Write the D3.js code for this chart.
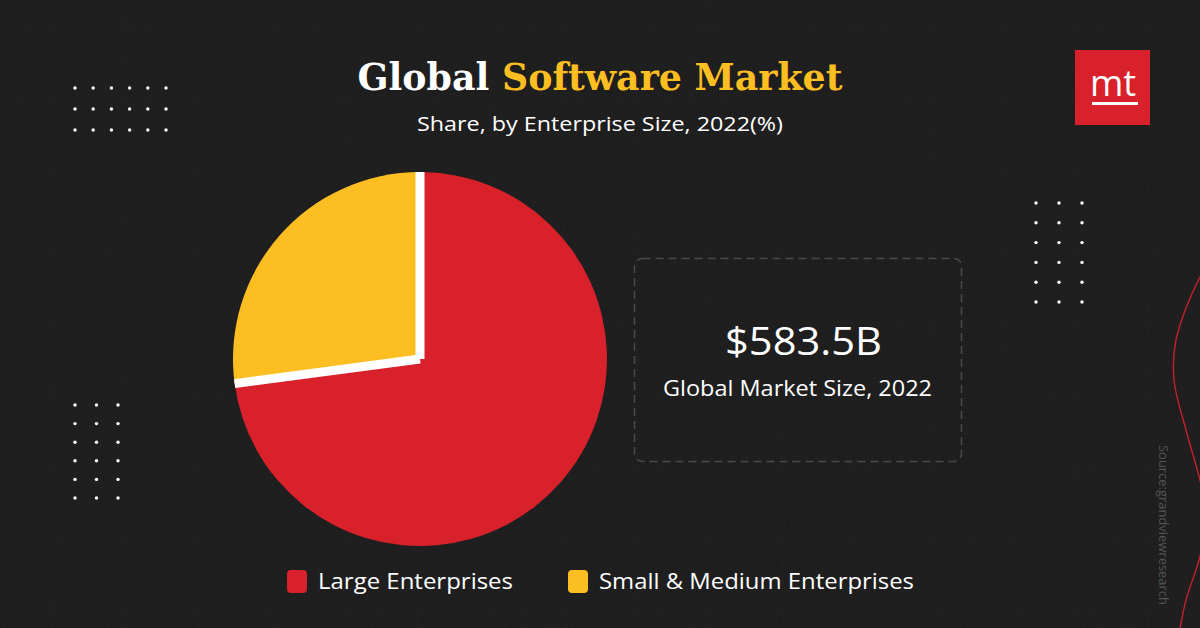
<!DOCTYPE html>
<html>
    <head>
        <meta charset="utf-8">
        <script src="https://d3js.org/d3.v7.min.js"></script>
        <style>
body {
    margin: 0;
    background-color: #1a1a1a;
}
        </style>
    </head>
    <body>
        <div id="chart"></div>
        <script>
// data
var categories = ["Large Enterprises", "Small & Medium Enterprises"];
var shares = [72.9, 27.1];
var sliceColors = ["#d8212a", "#fdbe21"];
var marketValue = "$583.5B";
var marketLabel = "Global Market Size, 2022";

var W = 1200, H = 628;
var sans = "'Open Sans', 'Noto Sans', sans-serif";

var svg = d3.select("#chart")
    .append("svg")
    .attr("width", W)
    .attr("height", H)
    .style("display", "block");

// background + a little grain
var defs = svg.append("defs");
var grain = defs.append("filter").attr("id", "grain");
grain.append("feTurbulence")
    .attr("type", "fractalNoise")
    .attr("baseFrequency", 0.9)
    .attr("numOctaves", 2)
    .attr("result", "n");
grain.append("feColorMatrix")
    .attr("type", "saturate")
    .attr("values", 0);

svg.append("rect").attr("width", W).attr("height", H).attr("fill", "#1a1a1a");
svg.append("rect").attr("width", W).attr("height", H)
    .attr("filter", "url(#grain)").attr("opacity", 0.06);

// faint background grid
var bg = svg.append("g").attr("stroke", "#fff").attr("stroke-opacity", 0.02);
for (var gx = 53; gx < W; gx += 73) {
    bg.append("line").attr("x1", gx).attr("x2", gx).attr("y1", 0).attr("y2", H);
}
for (var gy = 30; gy < H; gy += 73) {
    bg.append("line").attr("y1", gy).attr("y2", gy).attr("x1", 0).attr("x2", W);
}

// decorative dot grids
function dotGrid(x0, y0, cols, rows, dx, dy) {
    var g = svg.append("g").attr("fill", "#fff");
    for (var r = 0; r < rows; r++) {
        for (var c = 0; c < cols; c++) {
            g.append("circle")
                .attr("cx", x0 + c * dx)
                .attr("cy", y0 + r * dy)
                .attr("r", 1.7);
        }
    }
}
dotGrid(75, 88, 6, 3, 18.2, 21);
dotGrid(75, 405, 3, 6, 21.5, 18.6);
dotGrid(1036, 203, 3, 6, 23, 19.8);

// red swoosh on the right edge
var swoosh = [[1225, 240], [1200, 277], [1176, 340], [1174, 380], [1186, 430],
              [1200, 480], [1208, 515], [1199, 560], [1186, 600], [1178, 640]];
svg.append("path")
    .attr("d", d3.line().curve(d3.curveCatmullRom)(swoosh))
    .attr("fill", "none")
    .attr("stroke", "#c42129")
    .attr("stroke-width", 1.4);

// title
var title = svg.append("text")
    .attr("x", 600)
    .attr("y", 90)
    .attr("text-anchor", "middle")
    .attr("font-family", "'DejaVu Serif', serif")
    .attr("font-weight", "bold")
    .attr("font-size", 38)
    .attr("textLength", 485)
    .attr("lengthAdjust", "spacingAndGlyphs");
title.append("tspan").attr("fill", "#fff").text("Global ");
title.append("tspan").attr("fill", "#fdbe21").text("Software Market");

// sans text stretched to the wide face used in the reference
function wideText(x, y, size, len, str, anchor) {
    return svg.append("text")
        .attr("x", x)
        .attr("y", y)
        .attr("text-anchor", anchor || "middle")
        .attr("font-family", sans)
        .attr("font-size", size)
        .attr("fill", "#fff")
        .attr("textLength", len)
        .attr("lengthAdjust", "spacingAndGlyphs")
        .text(str);
}

wideText(600, 131, 20, 366, "Share, by Enterprise Size, 2022(%)");

// logo
var logo = svg.append("g");
logo.append("rect")
    .attr("x", 1075).attr("y", 50)
    .attr("width", 75).attr("height", 75)
    .attr("fill", "#d8212a");
logo.append("text")
    .attr("x", 1113).attr("y", 96)
    .attr("text-anchor", "middle")
    .attr("font-family", sans)
    .attr("font-size", 36)
    .attr("fill", "#fff")
    .text("mt");
logo.append("rect")
    .attr("x", 1092).attr("y", 102)
    .attr("width", 46).attr("height", 3)
    .attr("fill", "#fff");

// pie
var cx = 420, cy = 359, radius = 187;
var pie = d3.pie().sort(null).value(function(d) { return d; });
var arcs = pie(shares);
var arc = d3.arc().innerRadius(0).outerRadius(radius);

var pieG = svg.append("g").attr("transform", "translate(" + cx + "," + cy + ")");
pieG.selectAll("path.slice")
    .data(arcs)
    .enter().append("path")
    .attr("class", "slice")
    .attr("d", arc)
    .attr("fill", function(d, i) { return sliceColors[i]; });

// white separators on the slice edges
pieG.selectAll("line.sep")
    .data(arcs)
    .enter().append("line")
    .attr("class", "sep")
    .attr("x1", 0).attr("y1", 0)
    .attr("x2", function(d) { return Math.sin(d.startAngle) * radius; })
    .attr("y2", function(d) { return -Math.cos(d.startAngle) * radius; })
    .attr("stroke", "#fff")
    .attr("stroke-width", 9);

// market size box
svg.append("rect")
    .attr("x", 634.5).attr("y", 258.5)
    .attr("width", 327).attr("height", 203)
    .attr("rx", 8)
    .attr("fill", "none")
    .attr("stroke", "#4a4a4a")
    .attr("stroke-width", 1.5)
    .attr("stroke-dasharray", "8,5");

wideText(803.5, 355, 39, 157, marketValue);
wideText(797.5, 396, 21, 269, marketLabel);

// legend
var legendX = [287, 568];
var legendLen = [195, 315];
categories.forEach(function(c, i) {
    svg.append("rect")
        .attr("x", legendX[i]).attr("y", 570)
        .attr("width", 20).attr("height", 23)
        .attr("rx", 4)
        .attr("fill", sliceColors[i]);
    wideText(legendX[i] + 31, 589, 21, legendLen[i], c, "start");
});

// source, rotated
svg.append("text")
    .attr("transform", "translate(1159,445) rotate(90)")
    .attr("font-family", sans)
    .attr("font-size", 13)
    .attr("fill", "#555")
    .attr("textLength", 160)
    .attr("lengthAdjust", "spacingAndGlyphs")
    .text("Source:grandviewresearch");
        </script>
    </body>
</html>
